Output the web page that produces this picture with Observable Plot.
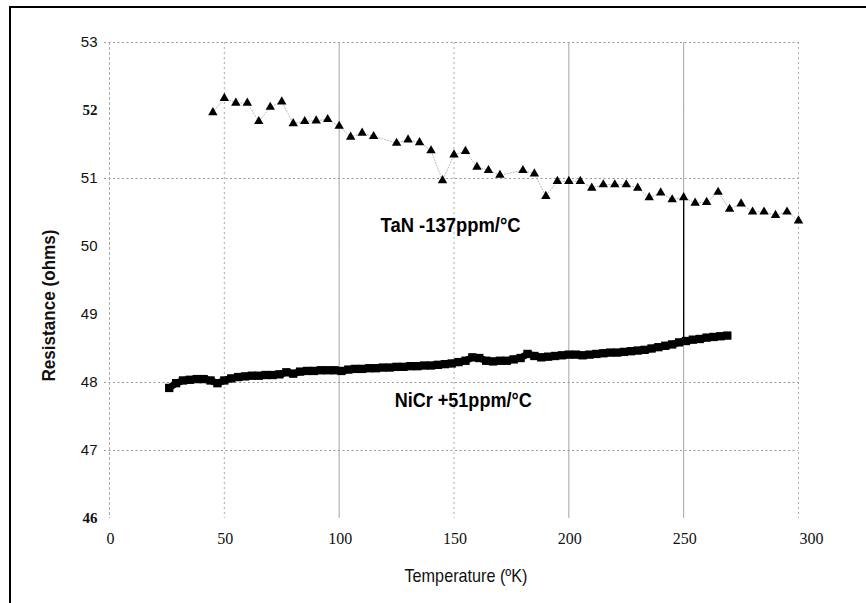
<!DOCTYPE html>
<html>
<head>
<meta charset="utf-8">
<script src="https://cdn.jsdelivr.net/npm/d3@7"></script>
<script src="https://cdn.jsdelivr.net/npm/@observablehq/plot@0.6"></script>
<style>
  html, body { margin: 0; padding: 0; background: #fff; }
  #wrap { position: relative; width: 866px; height: 603px; overflow: hidden; }
  #border { position: absolute; left: 9px; top: 6px; right: -5px; bottom: -5px;
            border-left: 2.5px solid #000; border-top: 2.5px solid #000; pointer-events: none; }
</style>
</head>
<body>
<div id="wrap"><div id="border"></div></div>
<script>
// ---- TaN series (triangles) ----
const tanTemp = [45,50,55,60,65,70,75,80,85,90,95,100,105,110,115,125,130,135,140,145,150,155,160,165,170,180,185,190,195,200,205,210,215,220,225,230,235,240,245,250,255,260,265,270,275,280,285,290,295,300];
const tanRes  = [51.97,52.18,52.11,52.11,51.84,52.05,52.13,51.81,51.84,51.85,51.87,51.77,51.61,51.67,51.62,51.52,51.57,51.53,51.41,50.97,51.35,51.40,51.17,51.12,51.05,51.12,51.07,50.74,50.96,50.96,50.96,50.86,50.91,50.91,50.91,50.86,50.72,50.79,50.69,50.72,50.64,50.65,50.80,50.55,50.63,50.51,50.51,50.46,50.51,50.38];

// ---- NiCr series (squares) ----
const nicrTemp = [26,29,32,35,38,41,44,47,50,53,56,59,62,65,68,71,74,77,80,83,86,89,92,95,98,101,104,107,110,113,116,119,122,125,128,131,134,137,140,143,146,149,152,155,158,161,164,167,170,173,176,179,182,185,188,191,194,197,200,203,206,209,212,215,218,221,224,227,230,233,236,239,242,245,248,251,254,257,260,263,266,269];
const nicrRes  = [47.92,47.99,48.03,48.04,48.05,48.05,48.03,47.99,48.03,48.06,48.08,48.09,48.10,48.10,48.11,48.11,48.12,48.15,48.13,48.16,48.17,48.17,48.18,48.18,48.18,48.17,48.19,48.20,48.20,48.21,48.21,48.22,48.22,48.23,48.23,48.24,48.24,48.25,48.25,48.26,48.27,48.28,48.30,48.32,48.37,48.36,48.32,48.31,48.32,48.32,48.34,48.36,48.42,48.39,48.37,48.38,48.39,48.40,48.41,48.41,48.40,48.41,48.42,48.43,48.44,48.44,48.45,48.46,48.47,48.48,48.50,48.52,48.54,48.56,48.59,48.61,48.63,48.64,48.66,48.67,48.68,48.69];

// ---- drop line seen at 250 K ----
const dropTemp = [250];
const dropLow  = [48.61];
const dropHigh = [50.72];

// ---- annotations ----
const noteText = ["TaN -137ppm/°C", "NiCr +51ppm/°C"];
const noteTemp = [148.5, 154];
const noteRes  = [50.31, 47.74];

// ---- ticks ----
const xTicks = [0, 50, 100, 150, 200, 250, 300];
const yTicksSans  = [53, 51, 50, 49, 48, 47];
const yTicksSerif = [52, 46];
const xGridSolid  = [100, 200, 250];
const xGridDotted = [50, 150, 300];
const yGridDotted = [53, 51, 48, 47];
const yGridFaint  = [52, 50, 49];

const xTitle = "Temperature (ºK)";
const yTitle = "Resistance (ohms)";

const tan  = tanTemp.map((t, i) => ({t, r: tanRes[i]}));
const nicr = nicrTemp.map((t, i) => ({t, r: nicrRes[i]}));
const drop = dropTemp.map((t, i) => ({t, lo: dropLow[i], hi: dropHigh[i]}));
const notes = noteText.map((s, i) => ({s, t: noteTemp[i], r: noteRes[i]}));

const sans = "'Liberation Sans', Arial, Helvetica, sans-serif";
const serif = "'Liberation Serif', 'DejaVu Serif', 'Times New Roman', serif";

const chart = Plot.plot({
  width: 866,
  height: 603,
  marginLeft: 109,
  marginRight: 68,
  marginTop: 42,
  marginBottom: 85,
  x: {domain: [0, 300], axis: null},
  y: {domain: [46, 53], axis: null},
  style: {background: "#fff", overflow: "visible"},
  marks: [
    // grid
    Plot.ruleY(yGridDotted, {stroke: "#8c8c8c", strokeWidth: 0.9, strokeDasharray: "2,2.5", insetLeft: -5}),
    Plot.ruleY(yGridFaint, {stroke: "#dadada", strokeWidth: 0.6, strokeDasharray: "1,7"}),
    Plot.ruleX(xGridSolid, {stroke: "#9a9a9a", strokeWidth: 0.9}),
    Plot.ruleX(xGridDotted, {stroke: "#a0a0a0", strokeWidth: 0.9, strokeDasharray: "2,3"}),
    Plot.ruleX([0], {stroke: "#a8a8a8", strokeWidth: 1, strokeDasharray: "3,2"}),
    // drop line
    Plot.ruleX(drop, {x: "t", y1: "lo", y2: "hi", stroke: "#000", strokeWidth: 1.3}),
    // TaN
    Plot.line(tan, {x: "t", y: "r", stroke: "#a0a0a0", strokeWidth: 0.8, strokeDasharray: "1,2"}),
    Plot.dot(tan, {x: "t", y: "r", symbol: "triangle", r: 3.5, fill: "#000", stroke: "none"}),
    // NiCr
    Plot.line(nicr, {x: "t", y: "r", stroke: "#000", strokeWidth: 7, curve: "linear"}),
    Plot.dot(nicr, {x: "t", y: "r", symbol: "square", r: 4.7, fill: "#000", stroke: "none"}),
    // annotations
    Plot.text(notes, {x: "t", y: "r", text: "s", fontSize: 20, fontWeight: "bold", fontFamily: sans, fill: "#000"}),
    // y tick labels
    Plot.text(yTicksSans, {x: 0, y: d => d, text: d => String(d), textAnchor: "end", dx: -12, fontSize: 15, fontFamily: sans, fill: "#111"}),
    Plot.text(yTicksSerif, {x: 0, y: d => d, text: d => String(d), textAnchor: "end", dx: -12, fontSize: 15, fontWeight: "bold", fontFamily: serif, fill: "#111"}),
    // x tick labels
    Plot.text(xTicks.filter(d => d < 300), {x: d => d, frameAnchor: "bottom", dy: 25, dx: 1, text: d => String(d), fontSize: 16, fontFamily: serif, fill: "#111"}),
    Plot.text(xTicks.filter(d => d >= 300), {x: d => d, frameAnchor: "bottom", dy: 25, dx: 13, text: d => String(d), fontSize: 16, fontFamily: serif, fill: "#111"}),
    // axis titles
    Plot.text([xTitle], {frameAnchor: "bottom", textAnchor: "middle", dy: 63, dx: 12, text: d => d, fontSize: 19, fontFamily: sans, fill: "#111"}),
    Plot.text([yTitle], {frameAnchor: "left", textAnchor: "middle", dx: -61, dy: 25, rotate: -90, text: d => d, fontSize: 19, fontWeight: "bold", fontFamily: sans, fill: "#111"})
  ]
});

// condense the narrow-font texts (the reference uses a condensed face)
const condensed = new Map([
  [noteText[0], 140], [noteText[1], 137], [xTitle, 123], [yTitle, 152]
]);
d3.select(chart).selectAll("text").each(function () {
  const w = condensed.get(this.textContent);
  if (w) { this.setAttribute("textLength", w); this.setAttribute("lengthAdjust", "spacingAndGlyphs"); }
});
document.getElementById("wrap").prepend(chart);
</script>
</body>
</html>
